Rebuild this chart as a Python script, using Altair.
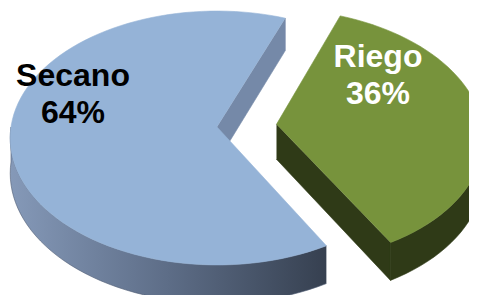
import math
import altair as alt
import pandas as pd

# ---- data -----------------------------------------------------------
categories = ["Secano", "Riego"]
values = [64, 36]
top_colors = ["#95B3D7", "#77933C"]
cut_colors = ["#7589A8", "#2F3A17"]
side_colors = ["gradient", "#2F3A17"]
label_colors = ["#000000", "#FFFFFF"]
exploded = [0.0, 0.29]

# ---- geometry / style constants ------------------------------------
W, H = 461, 287          # plot area (page offset 8px)
CX, CY = 217, 127        # projected centre of the pie
SX, SZ = 206, 126        # horizontal radius, foreshortened depth radius
PERSP = 0.0866           # perspective strength
DEPTH = 35               # pie thickness
START = 21.0             # start angle of the second slice (deg, clockwise from back)
LABEL_POS = {"Secano": (73, 86), "Riego": (378, 67)}
N = 140

total = float(sum(values))


def proj(X, Z, drop=0.0):
    f = 1.0 / (1.0 - PERSP * Z)
    return (CX + SX * X * f, CY + (SZ * Z + drop) * f)


def rim(phi, off, drop=0.0):
    r = math.radians(phi)
    return proj(math.sin(r) + off[0], -math.cos(r) + off[1], drop)


def apex(off, drop=0.0):
    return proj(off[0], off[1], drop)


def arc(t0, t1, off, drop=0.0):
    n = max(2, int(N * abs(t1 - t0) / 360) + 2)
    return [rim(t0 + (t1 - t0) * i / (n - 1), off, drop) for i in range(n)]


rows = []
layers_spec = []
pid = 0


def add_poly(pts, fill):
    global pid
    for k, (x, y) in enumerate(pts):
        rows.append({"poly": pid, "x": x, "y": y, "ord": k})
    layers_spec.append((pid, fill))
    pid += 1


angle = START - 360 * values[0] / total
slices = []
for cat, v, ex in zip(categories, values, exploded):
    t0 = angle
    t1 = angle + 360 * v / total
    mid = math.radians((t0 + t1) / 2)
    off = (ex * math.sin(mid), -ex * math.cos(mid))
    slices.append((t0, t1, off))
    angle = t1

side_grad = alt.Gradient(
    gradient="linear",
    stops=[
        alt.GradientStop(color="#8599B8", offset=0),
        alt.GradientStop(color="#5D6D87", offset=0.5),
        alt.GradientStop(color="#364050", offset=1),
    ],
    x1=0, x2=1, y1=0, y2=0,
)

for i, (t0, t1, off) in enumerate(slices):
    # radial cut faces that face the viewer
    for t, nrm in ((t0, t0 - 90), (t1, t1 + 90)):
        if math.cos(math.radians(nrm)) < 0:
            add_poly([apex(off), rim(t, off), rim(t, off, DEPTH), apex(off, DEPTH)], cut_colors[i])
    # outer wall, front half
    for k in range(-2, 3):
        lo, hi = 90 + 360 * k, 270 + 360 * k
        a0, a1 = max(t0, lo), min(t1, hi)
        if a1 > a0:
            pts = arc(a0, a1, off) + arc(a1, a0, off, DEPTH)
            add_poly(pts, side_grad if side_colors[i] == "gradient" else side_colors[i])
    # top face
    add_poly([apex(off)] + arc(t0, t1, off), top_colors[i])

df = pd.DataFrame(rows)

xs = alt.Scale(domain=[8, 8 + W], nice=False, zero=False)
ys = alt.Scale(domain=[8, 8 + H], nice=False, zero=False, reverse=True)

base = alt.Chart(df)
layers = []
for p, fill in layers_spec:
    stroke = fill if isinstance(fill, str) else "#4F5D74"
    layers.append(
        base.transform_filter(alt.datum.poly == p)
        .mark_line(fill=fill, stroke=stroke, strokeWidth=0.6, interpolate="linear")
        .encode(
            x=alt.X("x:Q", scale=xs, axis=None),
            y=alt.Y("y:Q", scale=ys, axis=None),
            order=alt.Order("ord:Q"),
        )
    )

labels = pd.DataFrame({
    "label": [f"{c}\n{v}%" for c, v in zip(categories, values)],
    "lx": [LABEL_POS[c][0] for c in categories],
    "ly": [LABEL_POS[c][1] for c in categories],
    "col": label_colors,
})
text = alt.Chart(labels).mark_text(
    font="Liberation Sans", fontWeight="bold", fontSize=32,
    align="center", baseline="alphabetic", lineBreak="\n", lineHeight=37,
).encode(
    x=alt.X("lx:Q", scale=xs, axis=None),
    y=alt.Y("ly:Q", scale=ys, axis=None),
    text="label:N",
    color=alt.Color("col:N", scale=None, legend=None),
)

chart = alt.layer(*layers, text).properties(
    width=W, height=H, padding=0, autosize="none", background="white"
).configure_view(stroke=None)

chart.save("out.html", embed_options={"renderer": "svg", "actions": False})
